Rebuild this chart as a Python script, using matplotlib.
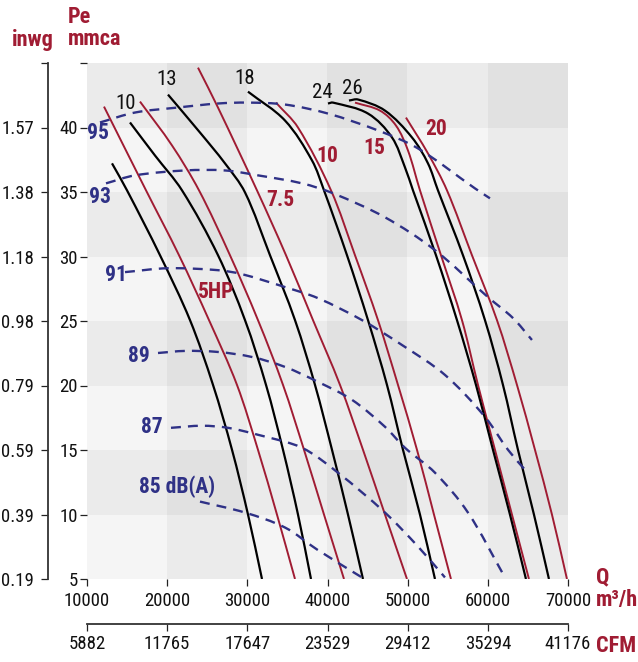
import matplotlib
matplotlib.use("Agg")
import matplotlib.pyplot as plt
from matplotlib import font_manager as fm
from matplotlib.path import Path
from matplotlib.patches import PathPatch
import numpy as np

# ---------------- data ----------------
q_ticks = [10000, 20000, 30000, 40000, 50000, 60000, 70000]
q_labels = ["10000", "20000", "30000", "40000", "50000", "60000", "70000"]
cfm_labels = ["5882", "11765", "17647", "23529", "29412", "35294", "41176"]
pe_ticks = [5, 10, 15, 20, 25, 30, 35, 40, 45]
pe_labels = ["5", "10", "15", "20", "25", "30", "35", "40", ""]
inwg_labels = ["0.19", "0.39", "0.59", "0.79", "0.98", "1.18", "1.38", "1.57", ""]

# fan characteristic curves (Q in m3/h, Pe in mmca)
fan_names = ["", "10", "13", "18", "24", "26"]
fan_q = [
    [13118, 14989, 19105, 22847, 25716, 28086, 30082, 31828],
    [15363, 18482, 21849, 26340, 29707, 32327, 34447, 36318, 37940],
    [20103, 24094, 27213, 29707, 32826, 35944, 38438, 40559, 42554, 44425],
    [30078, 34697, 38064, 39561, 42430, 45049, 47418, 49414, 51534, 53405],
    [40060, 40684, 45049, 48042, 49663, 50661, 53530, 56149, 58519, 60639, 62759, 64755],
    [42679, 43802, 47169, 50536, 52532, 53778, 56897, 59641, 61886, 63757, 65752, 67623],
]
fan_pe = [
    [37.22, 35.13, 30.10, 25.07, 20.05, 15.02, 10.0, 5.0],
    [40.39, 37.83, 35.13, 30.10, 25.07, 20.05, 15.02, 10.0, 5.0],
    [42.55, 39.61, 37.22, 34.97, 30.10, 25.07, 20.05, 15.02, 10.0, 5.0],
    [42.78, 40.54, 37.45, 35.13, 30.10, 25.07, 20.05, 15.02, 10.0, 5.0],
    [41.86, 41.93, 41.08, 39.23, 36.91, 35.13, 30.10, 25.07, 20.05, 15.02, 10.0, 5.0],
    [42.09, 42.17, 41.31, 39.23, 37.22, 35.13, 30.10, 25.07, 20.05, 15.02, 10.0, 5.0],
]

# absorbed power lines (HP)
power_names = ["", "5HP", "7.5", "10", "15", "20"]
power_q = [
    [12120, 17360, 21475, 25217, 28706, 31325, 33694, 35944],
    [16610, 20602, 23970, 27833, 31325, 34447, 37067, 39561, 42056],
    [23845, 26336, 31200, 34821, 38189, 41556, 44425, 47169, 49913],
    [33570, 36318, 40434, 43428, 46296, 48790, 51160, 53280, 55400],
    [43428, 46545, 48541, 50038, 51535, 54155, 56773, 58769, 60888, 63008, 65129],
    [49788, 52532, 54901, 58019, 61138, 63632, 65877, 67997, 69868],
]
power_pe = [
    [41.62, 35.13, 30.10, 25.07, 20.05, 15.02, 10.0, 5.0],
    [42.01, 38.61, 35.13, 30.10, 25.07, 20.05, 15.02, 10.0, 5.0],
    [44.64, 41.55, 35.13, 30.10, 25.07, 20.05, 15.02, 10.0, 5.0],
    [41.93, 40.00, 35.13, 30.10, 25.07, 20.05, 15.02, 10.0, 5.0],
    [41.93, 41.31, 40.15, 38.22, 35.13, 30.10, 25.07, 20.05, 15.02, 10.0, 5.0],
    [40.77, 37.99, 35.13, 30.10, 25.07, 20.05, 15.02, 10.0, 5.0],
]

# sound level lines dB(A)
noise_names = ["95", "93", "91", "89", "87", "85 dB(A)"]
noise_q = [
    [11621, 15986, 21350, 26336, 30078, 34697, 40060, 46296, 51285, 58394, 60265],
    [12370, 15986, 22224, 27213, 31325, 36817, 40684, 47169, 53405, 60015, 63133, 65503],
    [14740, 20103, 26336, 29330, 34697, 38812, 44300, 49289, 54652, 59641, 62510, 64630],
    [18856, 22224, 26336, 30575, 34697, 38812, 43053, 47169, 49663, 53405, 57521, 62136],
    [20477, 24344, 27587, 31325, 36817, 41307, 47169, 51285, 54652],
    [24095, 29704, 34697, 38687, 44300],
]
noise_pe = [
    [40.39, 41.16, 41.55, 41.86, 41.93, 41.78, 41.08, 39.77, 38.38, 35.28, 34.51],
    [35.67, 36.29, 36.67, 36.67, 36.29, 35.67, 34.90, 33.04, 30.49, 26.85, 25.23, 23.53],
    [28.79, 29.09, 28.94, 28.63, 27.63, 26.77, 25.07, 23.14, 20.82, 17.57, 15.02, 13.47],
    [22.52, 22.68, 22.60, 22.21, 21.44, 20.28, 18.89, 16.80, 15.17, 13.24, 10.15, 5.12],
    [16.72, 16.88, 16.72, 16.18, 15.17, 13.24, 10.15, 7.52, 5.12],
    [11.00, 10.15, 8.99, 7.29, 5.12],
]

# ---------------- fonts ----------------
def _weight_num(w):
    if isinstance(w, (int, float)):
        return w
    return {"normal": 400, "regular": 400, "book": 400, "medium": 500,
            "bold": 700, "semibold": 600, "demibold": 600}.get(str(w).lower(), 400)


def narrow_font(bold):
    """Find an installed condensed/narrow sans face."""
    prefs = ["liberation sans narrow", "roboto condensed", "noto sans",
             "dejavu sans", "open sans", "lato", "inter"]
    cands = []
    for f in fm.fontManager.ttflist:
        base = f.fname.lower()
        is_narrow = (f.stretch in ("condensed", 375) or
                     "condensed" in base or "narrow" in base)
        if not is_narrow or f.style != "normal":
            continue
        if any(k in base for k in ("extra", "ultra", "semicond", "semi")):
            continue
        w = _weight_num(f.weight)
        if (bold and w != 700) or (not bold and w != 400):
            continue
        name = f.name.lower()
        rank = next((i for i, p in enumerate(prefs) if name.startswith(p)), len(prefs))
        cands.append((rank, f.fname))
    if cands:
        cands.sort()
        return cands[0][1]
    return None


_reg = narrow_font(False)
_bold = narrow_font(True)


def fp(size, bold=False):
    path = _bold if bold else _reg
    if path:
        return fm.FontProperties(fname=path, size=size)
    return fm.FontProperties(family="DejaVu Sans", size=size * 0.82,
                             weight="bold" if bold else "normal")


# ---------------- layout ----------------
RED = "#a01c33"
NAVY = "#2f3186"
W, H = 638, 662
AX_L, AX_R, AX_T, AX_B = 87, 568, 63, 579        # plot area in pixels

fig = plt.figure(figsize=(W / 100, H / 100), dpi=100)
ax = fig.add_axes([AX_L / W, 1 - AX_B / H, (AX_R - AX_L) / W, (AX_B - AX_T) / H])
ax.set_xlim(q_ticks[0], q_ticks[-1])
ax.set_ylim(pe_ticks[0], pe_ticks[-1])

# pixel size of one data unit, so curve tangents follow what is seen
SX = (AX_R - AX_L) / (q_ticks[-1] - q_ticks[0])
SY = (AX_B - AX_T) / (pe_ticks[-1] - pe_ticks[0])


def curve_path(q, p):
    """Smooth cubic Bezier path passing through every given (Q, Pe) point."""
    pts = np.column_stack([np.asarray(q, float) * SX, np.asarray(p, float) * SY])
    n = len(pts)
    tang = np.zeros_like(pts)
    for i in range(n):
        d = pts[min(i + 1, n - 1)] - pts[max(i - 1, 0)]
        tang[i] = d / np.hypot(*d)
    verts, codes = [pts[0]], [Path.MOVETO]
    for i in range(n - 1):
        L = np.hypot(*(pts[i + 1] - pts[i])) / 3.0
        verts += [pts[i] + tang[i] * L, pts[i + 1] - tang[i + 1] * L, pts[i + 1]]
        codes += [Path.CURVE4] * 3
    verts = np.array(verts) / [SX, SY]
    return Path(verts, codes)


def draw_curve(q, p, **kw):
    ax.add_patch(PathPatch(curve_path(q, p), facecolor="none",
                           capstyle="butt", joinstyle="round", **kw))


# checkerboard background: darker on alternate rows and columns
shades = np.array([0xf5, 0xeb, 0xe1]) / 255.0
nrows, ncols = len(pe_ticks) - 1, len(q_ticks) - 1
level = (np.arange(nrows)[:, None] % 2) + (np.arange(ncols)[None, :] % 2)
rgb = np.repeat(shades[level][:, :, None], 3, axis=2)
ax.imshow(rgb, extent=[q_ticks[0], q_ticks[-1], pe_ticks[0], pe_ticks[-1]],
          origin="lower", aspect="auto", interpolation="nearest", zorder=0)

for s in ax.spines.values():
    s.set_visible(False)

TICK_SIZE = 13.5
ax.set_xticks(q_ticks, labels=q_labels)
ax.set_yticks(pe_ticks, labels=pe_labels)
ax.tick_params(axis="x", direction="out", length=5, width=0.9, color="#222222", pad=4)
ax.tick_params(axis="y", direction="out", length=5, width=0.9, color="#222222", pad=1.5)
for lab in ax.get_xticklabels() + ax.get_yticklabels():
    lab.set_fontproperties(fp(TICK_SIZE))
    lab.set_color("#111111")

# power lines
for q, p in zip(power_q, power_pe):
    draw_curve(q, p, edgecolor=RED, lw=1.4, zorder=3)
# fan curves
for q, p in zip(fan_q, fan_pe):
    draw_curve(q, p, edgecolor="black", lw=1.6, zorder=4)
# sound levels
for q, p in zip(noise_q, noise_pe):
    draw_curve(q, p, edgecolor=NAVY, lw=1.7, linestyle=(0, (4.2, 3.0)), zorder=5)

# label anchor positions (Q, Pe)
fan_label_pos = [None, (14864, 41.86), (19976, 43.71), (29703, 43.79), (39311, 42.71), (43053, 43.02)]
power_label_pos = [None, (26087, 27.24), (34073, 34.35), (39935, 37.76), (45797, 38.38), (53530, 39.92)]
noise_label_pos = [(11372, 39.61), (11621, 34.59), (13617, 28.55), (16485, 22.29), (18106, 16.80), (21226, 12.16)]

for name, pos in zip(fan_names, fan_label_pos):
    if pos:
        ax.text(pos[0], pos[1], name, color="#111111", fontproperties=fp(15),
                ha="center", va="center", zorder=6)
for name, pos in zip(power_names, power_label_pos):
    if pos:
        ax.text(pos[0], pos[1], name, color=RED, fontproperties=fp(15.5, True),
                ha="center", va="center", zorder=6)
for name, pos in zip(noise_names, noise_label_pos):
    ax.text(pos[0], pos[1], name, color=NAVY, fontproperties=fp(15.5, True),
            ha="center", va="center", zorder=6)

# inwg scale
sec_y = ax.secondary_yaxis(-39 / (AX_R - AX_L))
sec_y.set_yticks(pe_ticks, labels=inwg_labels)
sec_y.tick_params(direction="out", length=5, width=0.9, color="#222222", pad=5)
for lab in sec_y.get_yticklabels():
    lab.set_fontproperties(fp(TICK_SIZE))
    lab.set_color("#111111")
for s in sec_y.spines.values():
    s.set_linewidth(1.3)
    s.set_color("#333333")

# CFM scale
sec_x = ax.secondary_xaxis(-45 / (AX_B - AX_T))
sec_x.set_xticks(q_ticks, labels=cfm_labels)
sec_x.tick_params(direction="out", length=5, width=0.9, color="#222222", pad=3)
for lab in sec_x.get_xticklabels():
    lab.set_fontproperties(fp(TICK_SIZE))
    lab.set_color("#111111")
for s in sec_x.spines.values():
    s.set_linewidth(1.3)
    s.set_color("#333333")

# axis titles
tfp = fp(16, True)
fig.text(33 / W, 1 - 40 / H, "inwg", ha="center", va="center", color=RED, fontproperties=tfp)
fig.text(68 / W, 1 - 17 / H, "Pe", ha="left", va="center", color=RED, fontproperties=tfp)
fig.text(68 / W, 1 - 39 / H, "mmca", ha="left", va="center", color=RED, fontproperties=tfp)
fig.text(596 / W, 1 - 577 / H, "Q", ha="left", va="center", color=RED, fontproperties=tfp)
fig.text(596 / W, 1 - 600 / H, "m³/h", ha="left", va="center", color=RED, fontproperties=tfp)
fig.text(596 / W, 1 - 646 / H, "CFM", ha="left", va="center", color=RED, fontproperties=tfp)

fig.savefig("out.png", dpi=100)
